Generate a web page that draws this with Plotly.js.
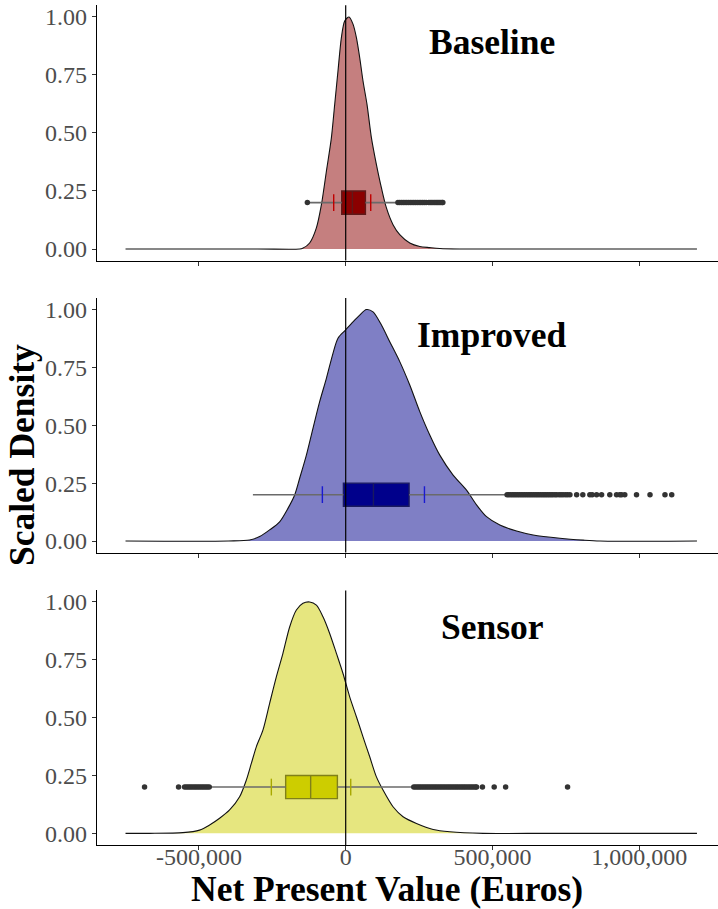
<!DOCTYPE html>
<html>
<head>
<meta charset="utf-8">
<script src="https://cdn.plot.ly/plotly-3.0.1.min.js"></script>
<style>html,body{margin:0;padding:0;background:#fff;}#chart{width:718px;height:909px;}</style>
</head>
<body>
<div id="chart"></div>
<script>
// ---- Data ----
const panelNames = ["Baseline", "Improved", "Sensor"];

const baselineX = [-750300, -300000, -156900, -146700, -122800, -99900, -82900, -65800, -48800, -37500, -26300, -14700, -3400, 11300, 24900, 36500, 47700, 59000, 72600, 87700, 104700, 121800, 138800, 161300, 184200, 218300, 252400, 286500, 320600, 388800, 600000, 1197000];
const baselineY = [0, 0, 0.0, 0.003, 0.026, 0.091, 0.19, 0.335, 0.479, 0.623, 0.767, 0.911, 0.983, 1.0, 0.969, 0.911, 0.825, 0.724, 0.623, 0.479, 0.364, 0.263, 0.177, 0.105, 0.062, 0.026, 0.011, 0.006, 0.002, 0.0, 0, 0];

const improvedX = [-750300, -400000, -327400, -293300, -259200, -225100, -196800, -173900, -156900, -134000, -111500, -88700, -65800, -43300, -26300, -1000, 24900, 47700, 70600, 93100, 121800, 150100, 184200, 218300, 252400, 286500, 320600, 366000, 411700, 445800, 479900, 525200, 582200, 638800, 729900, 809300, 866300, 1197000];
const improvedY = [0, 0, 0.004, 0.019, 0.048, 0.083, 0.141, 0.199, 0.271, 0.371, 0.487, 0.602, 0.703, 0.811, 0.876, 0.911, 0.947, 0.976, 1.0, 0.99, 0.933, 0.861, 0.775, 0.674, 0.559, 0.458, 0.371, 0.285, 0.22, 0.156, 0.105, 0.069, 0.043, 0.026, 0.012, 0.004, 0.0, 0];

const sensorX = [-750300, -668500, -554900, -498000, -463800, -429700, -395600, -361500, -338700, -321600, -304600, -282100, -259200, -236400, -213900, -191000, -168100, -145600, -122800, -99900, -77400, -54600, -31700, -9200, 13600, 36500, 59000, 81900, 104700, 127200, 161300, 195400, 241100, 298000, 354800, 468300, 700000, 1197000];
const sensorY = [0, 0.0, 0.003, 0.014, 0.036, 0.065, 0.101, 0.158, 0.23, 0.302, 0.374, 0.446, 0.562, 0.676, 0.778, 0.892, 0.965, 0.994, 1.0, 0.986, 0.936, 0.864, 0.778, 0.691, 0.59, 0.504, 0.417, 0.331, 0.244, 0.187, 0.115, 0.072, 0.043, 0.017, 0.007, 0.0, 0, 0];

// box stats: [lower whisker, q1, median, q3, upper whisker]
const baselineBox = [-122800, -13600, 22900, 67200, 177400];
const improvedBox = [-316200, -7800, 94500, 215900, 548100];
const sensorBox = [-463800, -204600, -119400, -28300, 229500];

// small coloured marks on the whisker line
const baselineMarks = [-40900, 85300];
const improvedMarks = [-79500, 268400];
const sensorMarks = [-253400, 17100];

const baselineOutliers = [-130600, 178000, 184000, 190000, 196000, 202000, 208000, 214000, 220000, 226000, 232000, 238000, 244000, 250000, 256000, 262000, 268000, 274000, 283000, 288000, 293000, 298000, 303000, 308000, 313000, 318000, 323000, 328000, 331000];
const improvedOutliers = [550000, 556000, 562000, 568000, 574000, 580000, 586000, 592000, 598000, 604000, 610000, 616000, 622000, 628000, 634000, 640000, 646000, 652000, 658000, 664000, 670000, 676000, 682000, 688000, 694000, 700000, 706000, 713000, 719000, 727000, 734000, 741000, 749000, 756000, 764000, 787000, 808000, 832000, 840000, 855000, 872000, 900000, 923000, 934000, 940000, 951000, 991000, 1037000, 1088000, 1111000];
const sensorOutliers = [-685500, -569600, -549000, -543000, -537000, -531000, -525000, -519000, -513000, -507000, -501000, -495000, -489000, -483000, -477000, -471000, -465000, 232000, 238000, 244000, 250000, 256000, 262000, 268000, 274000, 280000, 286000, 292000, 298000, 304000, 310000, 316000, 322000, 328000, 334000, 340000, 346000, 352000, 358000, 364000, 370000, 376000, 382000, 388000, 394000, 400000, 406000, 412000, 418000, 424000, 430000, 436000, 442000, 446000, 466000, 506000, 545000, 756000];

const boxY = 0.2;
const yTickVals = [0, 0.25, 0.5, 0.75, 1];
const yTickText = ["0.00", "0.25", "0.50", "0.75", "1.00"];
const xTickVals = [-500000, 0, 500000, 1000000];
const xTickText = ["-500,000", "0", "500,000", "1,000,000"];

// ---- Styles ----
const FONT = "Liberation Serif, Times New Roman, serif";
const densFill = ["rgba(139,0,0,0.5)", "rgba(0,0,139,0.5)", "rgba(205,205,0,0.5)"];
const boxFill = ["#8B0000", "#00008B", "#CDCD00"];
const markCol = ["#c00000", "#1a1ad0", "#a8a800"];

const dens = [[baselineX, baselineY], [improvedX, improvedY], [sensorX, sensorY]];
const boxes = [baselineBox, improvedBox, sensorBox];
const marks = [baselineMarks, improvedMarks, sensorMarks];
const outs = [baselineOutliers, improvedOutliers, sensorOutliers];

const traces = [];
for (let i = 0; i < 3; i++) {
  const xa = i === 0 ? "x" : "x" + (i + 1);
  const ya = i === 0 ? "y" : "y" + (i + 1);
  traces.push({
    type: "scatter", mode: "lines", x: dens[i][0], y: dens[i][1],
    xaxis: xa, yaxis: ya, fill: "tozeroy", fillcolor: densFill[i],
    line: {color: "#111", width: 1.1, shape: "spline", smoothing: 0.8},
    hoverinfo: "skip", showlegend: false
  });
  const b = boxes[i];
  // whiskers
  traces.push({
    type: "scatter", mode: "lines", x: [b[0], b[1], null, b[3], b[4]],
    y: [boxY, boxY, null, boxY, boxY], xaxis: xa, yaxis: ya,
    line: {color: "#6a6a6a", width: 1.6}, hoverinfo: "skip", showlegend: false
  });
  // box
  traces.push({
    type: "box", orientation: "h", xaxis: xa, yaxis: ya,
    y: [boxY], q1: [b[1]], median: [b[2]], q3: [b[3]],
    lowerfence: [b[1]], upperfence: [b[3]], width: 0.1, whiskerwidth: 0,
    fillcolor: boxFill[i], line: {color: "#333333", width: 1.4},
    boxpoints: false, hoverinfo: "skip", showlegend: false
  });
  // marks
  traces.push({
    type: "scatter", mode: "markers", x: marks[i], y: marks[i].map(() => boxY),
    xaxis: xa, yaxis: ya,
    marker: {symbol: "line-ns-open", size: 12, color: markCol[i], line: {color: markCol[i], width: 1.4}},
    hoverinfo: "skip", showlegend: false
  });
  // outliers
  traces.push({
    type: "scatter", mode: "markers", x: outs[i], y: outs[i].map(() => boxY),
    xaxis: xa, yaxis: ya,
    marker: {color: "#333333", size: 5.5},
    hoverinfo: "skip", showlegend: false
  });
}

const xRange = [-847500, 1268700];
const domains = [[0.7133, 0.9941], [0.3921, 0.6722], [0.0705, 0.3505]];
function xAxis(i) {
  return {
    range: xRange, anchor: i === 0 ? "y" : "y" + (i + 1), domain: [0, 1],
    showline: true, linecolor: "#000", linewidth: 1.2, zeroline: false, showgrid: false,
    ticks: "outside", ticklen: 4, tickwidth: 1, tickcolor: "#333",
    tickvals: xTickVals, ticktext: xTickText, showticklabels: i === 2,
    ticklabelstandoff: -14,
    tickfont: {family: FONT, size: 24, color: "#4d4d4d"}
  };
}
function yAxis(i) {
  return {
    range: [-0.05, 1.05], anchor: i === 0 ? "x" : "x" + (i + 1), domain: domains[i],
    showline: true, linecolor: "#000", linewidth: 1.2, zeroline: false, showgrid: false,
    ticks: "outside", ticklen: 4, tickwidth: 1, tickcolor: "#333",
    tickvals: yTickVals, ticktext: yTickText,
    tickfont: {family: FONT, size: 24, color: "#4d4d4d"}
  };
}

const shapes = [];
const annotations = [];
for (let i = 0; i < 3; i++) {
  const xa = i === 0 ? "x" : "x" + (i + 1);
  const ya = i === 0 ? "y" : "y" + (i + 1);
  shapes.push({type: "line", xref: xa, yref: ya + " domain", x0: 0, x1: 0, y0: 0, y1: 1,
    line: {color: "#000", width: 1.2}, layer: "above"});
  annotations.push({text: "<b>" + panelNames[i] + "</b>", xref: xa, yref: ya, x: 500000, y: 0.89,
    showarrow: false, xanchor: "center", yanchor: "middle",
    font: {family: FONT, size: 35.5, color: "#000"}});
}
annotations.push({text: "<b>Net Present Value (Euros)</b>", xref: "paper", yref: "paper",
  x: 0.467, y: 0.022, showarrow: false, xanchor: "center", yanchor: "middle",
  font: {family: FONT, size: 35.5, color: "#000"}});
annotations.push({text: "<b>Scaled Density</b>", xref: "paper", yref: "paper",
  x: -0.1208, y: 0.4994, showarrow: false, xanchor: "center", yanchor: "middle", textangle: -90,
  font: {family: FONT, size: 35.5, color: "#000"}});

const layout = {
  width: 718, height: 909,
  margin: {l: 97, r: 0, t: 0, b: 0},
  paper_bgcolor: "#fff", plot_bgcolor: "rgba(0,0,0,0)",
  showlegend: false,
  xaxis: xAxis(0), xaxis2: xAxis(1), xaxis3: xAxis(2),
  yaxis: yAxis(0), yaxis2: yAxis(1), yaxis3: yAxis(2),
  shapes: shapes, annotations: annotations
};

Plotly.newPlot("chart", traces, layout, {staticPlot: true, displayModeBar: false});
</script>
</body>
</html>
